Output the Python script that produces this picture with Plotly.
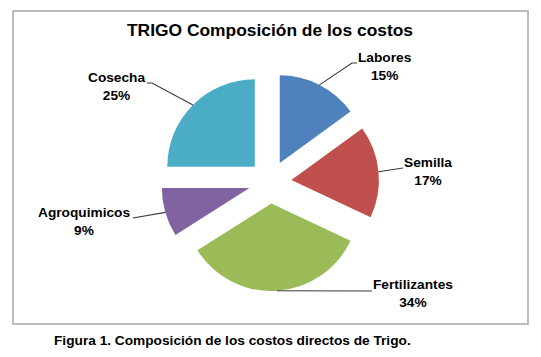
import math
import plotly.graph_objects as go

# ---- data ----
categories = ["Labores", "Semilla", "Fertilizantes", "Agroquimicos", "Cosecha"]
values = [15, 17, 34, 9, 25]
colors = ["#4F81BD", "#C0504D", "#9BBB59", "#8064A2", "#4BACC6"]
title_text = "TRIGO Composición de los costos"
caption_text = "Figura 1. Composición de los costos directos de Trigo."

# ---- layout geometry (pixels) ----
W, H = 541, 357
cx, cy = 270, 182          # pie centre
pull = 0.245
box = 218                  # pie domain size
r = box / (2 + 2 * pull)   # plotly radius formula

def px(x):
    return x / W

def py(y):
    return 1 - y / H

# label text centres and leader-line elbows (pixels)
label_pos = {
    "Labores": (385, 66.5),
    "Semilla": (428, 171.5),
    "Fertilizantes": (413, 293.5),
    "Agroquimicos": (84, 221.5),
    "Cosecha": (116, 86.5),
}
elbows = {
    "Labores": [(352, 63), (357, 63)],
    "Semilla": [(403, 168)],
    "Fertilizantes": [(372, 291)],
    "Agroquimicos": [(133, 218)],
    "Cosecha": [(152, 83), (147, 83)],
}

FONT = "Liberation Sans, Arial, Helvetica, sans-serif"

fig = go.Figure()
fig.add_trace(go.Pie(
    labels=categories,
    values=values,
    sort=False,
    direction="clockwise",
    rotation=0,
    pull=[pull] * len(values),
    marker=dict(colors=colors, line=dict(width=0)),
    textinfo="none",
    hoverinfo="skip",
    showlegend=False,
    domain=dict(x=[px(cx - box / 2), px(cx + box / 2)],
                y=[py(cy + box / 2), py(cy - box / 2)]),
))

shapes = [dict(type="rect", xref="paper", yref="paper",
               x0=px(13), x1=px(528), y0=py(324), y1=py(11),
               line=dict(color="#A6A6A6", width=1.5), fillcolor="rgba(0,0,0,0)")]
annotations = []

total = sum(values)
cum = 0
for cat, v in zip(categories, values):
    mid = (cum + v / 2) / total * 2 * math.pi
    cum += v
    dist = r * (1 + pull)
    tx = cx + dist * math.sin(mid)
    ty = cy - dist * math.cos(mid)
    pts = [(tx, ty)] + elbows[cat]
    path = "M " + " L ".join(f"{px(x):.5f},{py(y):.5f}" for x, y in pts)
    shapes.append(dict(type="path", xref="paper", yref="paper", path=path,
                       line=dict(color="#3A3A3A", width=1.1)))
    lx, ly = label_pos[cat]
    pct = round(v / total * 100)
    annotations.append(dict(
        x=px(lx), y=py(ly), xref="paper", yref="paper",
        text=f"<b>{cat}</b><br><b>{pct}%</b>", showarrow=False,
        xanchor="center", yanchor="middle", align="center",
        font=dict(family=FONT, size=13.7, color="#000000")))

annotations.append(dict(x=px(270), y=py(30), xref="paper", yref="paper",
                        text=f"<b>{title_text}</b>", showarrow=False,
                        xanchor="center", yanchor="middle",
                        font=dict(family=FONT, size=17.4, color="#000000")))
annotations.append(dict(x=px(232), y=py(340), xref="paper", yref="paper",
                        text=f"<b>{caption_text}</b>", showarrow=False,
                        xanchor="center", yanchor="middle",
                        font=dict(family=FONT, size=13.7, color="#000000")))

fig.update_layout(
    width=W, height=H,
    margin=dict(l=0, r=0, t=0, b=0),
    paper_bgcolor="white", plot_bgcolor="white",
    shapes=shapes, annotations=annotations,
)

fig.write_html(
    "out.html",
    config={"displayModeBar": False},
    post_script="document.body.style.margin='0';document.body.style.overflow='hidden';",
)
